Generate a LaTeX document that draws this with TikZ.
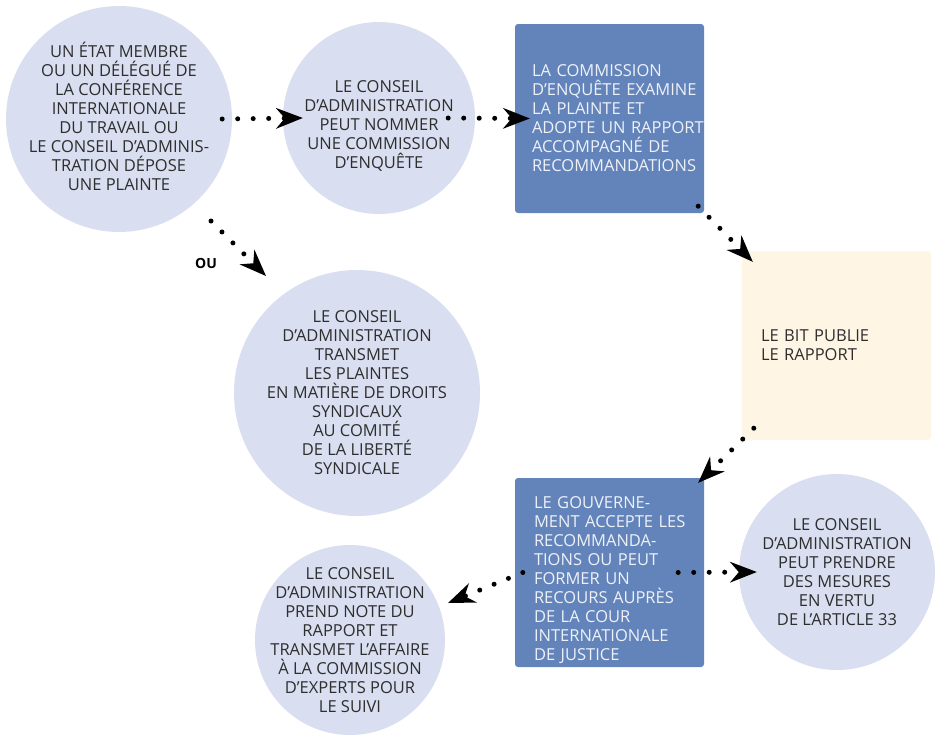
\documentclass[tikz,border=0pt]{standalone}
\usepackage{fontspec}
\setmainfont{Open Sans}
\usetikzlibrary{arrows.meta,calc}
\definecolor{circfill}{HTML}{D9DEF0}
\definecolor{boxblue}{HTML}{6384BA}
\definecolor{creamfill}{HTML}{FFF5E4}
\definecolor{darktext}{HTML}{2E2E2E}
\definecolor{lighttext}{HTML}{EEF1F8}
\begin{document}
\begin{tikzpicture}[x=1pt,y=1pt,
  every node/.style={font=\fontsize{16.5}{19}\selectfont},
  circ/.style={circle, fill=circfill, inner sep=-45pt, text=darktext, align=center},
  bluebox/.style={rectangle, rounded corners=3pt, fill=boxblue, minimum width=189pt, minimum height=189pt,
    inner sep=0pt, text width=189pt, align=left, text=lighttext},
  creambox/.style={rectangle, rounded corners=3pt, fill=creamfill, minimum width=189pt, minimum height=189pt,
    inner sep=0pt, text width=189pt, align=left, text=darktext},
  conn/.style={line width=5pt, line cap=round, dash pattern=on 0pt off 15.5pt,
    -{Stealth[length=27pt,width=21pt,inset=9pt,line width=0pt]}}
]
\useasboundingbox (0,0) rectangle (940,-739);

\node[circ, minimum size=226pt] (c1) at (119,-119) {UN ÉTAT MEMBRE\\OU UN DÉLÉGUÉ DE\\LA CONFÉRENCE\\INTERNATIONALE\\DU TRAVAIL OU\\LE CONSEIL D’ADMINIS-\\TRATION DÉPOSE\\UNE PLAINTE\rule[-6pt]{0pt}{6pt}};
\node[circ, minimum size=192pt] (c2) at (379,-118) {\rule{0pt}{28pt}LE CONSEIL\\D’ADMINISTRATION\\PEUT NOMMER\\UNE COMMISSION\\D’ENQUÊTE};
\node[bluebox] (b1) at (609.5,-118.5) {\leftskip=17pt\relax LA COMMISSION\\\mbox{D’ENQUÊTE EXAMINE}\\LA PLAINTE ET\\\mbox{ADOPTE UN RAPPORT}\\ACCOMPAGNÉ DE\\\mbox{RECOMMANDATIONS}\par};
\node[creambox] (b2) at (836.5,-345.5) {\leftskip=19pt\relax LE BIT PUBLIE\\LE RAPPORT\par};
\node[bluebox] (b3) at (609.5,-572.5) {\leftskip=19pt\relax\rule{0pt}{28pt}LE GOUVERNE-\\\mbox{MENT ACCEPTE LES}\\RECOMMANDA-\\TIONS OU PEUT\\FORMER UN\\\mbox{RECOURS AUPRÈS}\\DE LA COUR\\\mbox{INTERNATIONALE}\\DE JUSTICE\par};
\node[circ, minimum size=196pt] (c3) at (837,-572) {LE CONSEIL\\D’ADMINISTRATION\\PEUT PRENDRE\\DES MESURES\\EN VERTU\\DE L’ARTICLE 33};
\node[circ, minimum size=246pt] (c4) at (357,-393) {LE CONSEIL\\D’ADMINISTRATION\\TRANSMET\\LES PLAINTES\\EN MATIÈRE DE DROITS\\SYNDICAUX\\AU COMITÉ\\DE LA LIBERTÉ\\SYNDICALE};
\node[circ, minimum size=190pt] (c5) at (350,-640) {LE CONSEIL\\D’ADMINISTRATION\\PREND NOTE DU\\RAPPORT ET\\TRANSMET L’AFFAIRE\\À LA COMMISSION\\D’EXPERTS POUR\\LE SUIVI};
\node[font=\bfseries\fontsize{14}{16}\selectfont, text=black] (ou) at (206,-263) {OU};

\draw[conn] ($(c1.east)+(-10,0)$) -- ($(c2.west)+(20,0)$);
\draw[conn] ($(c2.east)+(-27,0)$) -- ($(b1.west)+(15,0)$);
\draw[conn] ($(b1.south east)+(-6,7)$) -- ($(b2.north west)+(11,-11)$);
\draw[conn] ($(b2.south west)+(12,12)$) -- ($(b3.north east)+(-6,-5)$);
\draw[conn] ($(b3.west)+(8,0)$) -- ($(c5.center)+(98,37)$);
\draw[conn] ($(b3.east)+(-26,0)$) -- ($(c3.west)+(18,0)$);
\draw[conn] ($(c1.center)+(92,-102)$) -- ($(c4.center)+(-91,117)$);
\end{tikzpicture}
\end{document}
